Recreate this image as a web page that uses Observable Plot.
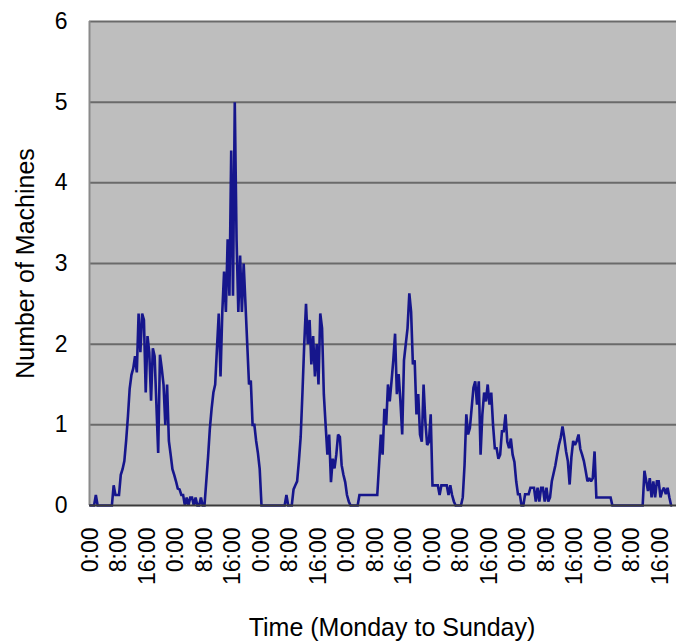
<!DOCTYPE html>
<html>
<head>
<meta charset="utf-8">
<script src="https://cdn.jsdelivr.net/npm/d3@7"></script>
<script src="https://cdn.jsdelivr.net/npm/@observablehq/plot@0.6"></script>
<style>
  html, body { margin: 0; padding: 0; background: #ffffff; }
  #chart { width: 676px; height: 641px; }
</style>
</head>
<body>
<div id="chart"></div>
<script>
// Number of machines, sampled every 30 minutes, one array per day (Monday .. Sunday)
const monday = [0,0,0,0.13,0,0,0,0,0,0,0,0,0,0.25,0.13,0.13,0.13,0.38,0.45,0.55,0.8,1.1,1.45,1.62,1.7,1.85,1.65,2.38,1.9,2.38,2.3,1.4,2.1,1.9,1.3,1.95,1.85,1.25,0.65,1.87,1.7,1.5,1.0,1.5,0.8,0.63,0.45,0.38];
const tuesday = [0.3,0.21,0.2,0.13,0.13,0,0.1,0,0.1,0.1,0,0.1,0,0,0.1,0,0,0.3,0.6,0.95,1.2,1.4,1.5,1.95,2.38,1.6,2.4,2.9,2.4,3.3,2.6,4.4,2.6,5.0,3.3,2.4,3.1,2.4,3.0,2.5,2.0,1.5,1.55,1.0,1.0,0.8,0.65,0.45];
const wednesday = [0,0,0,0,0,0,0,0,0,0,0,0,0,0,0.13,0,0,0,0.2,0.25,0.3,0.55,0.85,1.4,2.0,2.5,2.0,2.3,1.75,2.1,1.6,2.0,1.5,2.38,2.2,1.38,1.0,0.63,0.88,0.29,0.58,0.46,0.63,0.88,0.85,0.5,0.38,0.29];
const thursday = [0.13,0.05,0,0,0,0,0,0.13,0.13,0.13,0.13,0.13,0.13,0.13,0.13,0.13,0.13,0.13,0.5,0.88,0.63,1.2,1.0,1.5,1.29,1.54,1.8,2.13,1.38,1.63,1.29,0.88,1.8,2.0,2.2,2.63,2.4,1.75,1.8,1.13,1.38,0.88,0.79,1.5,1.04,0.75,0.79,1.13];
const friday = [0.25,0.25,0.25,0.25,0.13,0.25,0.25,0.25,0.25,0.13,0.25,0.13,0.05,0,0,0,0,0.1,0.5,1.13,0.88,0.96,1.21,1.46,1.54,1.25,1.54,0.63,1.13,1.4,1.29,1.5,1.25,1.4,1.0,0.71,0.71,0.58,0.63,0.92,0.92,1.13,0.79,0.71,0.83,0.63,0.54,0.3];
const saturday = [0.14,0.14,0,0,0.14,0.14,0.14,0.22,0.22,0.22,0.05,0.22,0.05,0.22,0.22,0.05,0.22,0.05,0.1,0.3,0.4,0.5,0.63,0.75,0.84,0.98,0.84,0.67,0.55,0.26,0.6,0.8,0.75,0.8,0.88,0.7,0.63,0.55,0.43,0.3,0.34,0.3,0.34,0.67,0.1,0.1,0.1,0.1];
const sunday = [0.1,0.1,0.1,0.1,0.1,0,0,0,0,0,0,0,0,0,0,0,0,0,0,0,0,0,0,0.43,0.3,0.18,0.34,0.1,0.3,0.1,0.3,0.3,0.1,0.18,0.22,0.14,0.22,0.1,0];

// x axis ticks (hours since Monday 0:00) and their labels
const tickHours = [0,8,16,24,32,40,48,56,64,72,80,88,96,104,112,120,128,136,144,152,160];
const tickLabels = ["0:00","8:00","16:00","0:00","8:00","16:00","0:00","8:00","16:00","0:00","8:00","16:00","0:00","8:00","16:00","0:00","8:00","16:00","0:00","8:00","16:00"];
const yTicks = [0,1,2,3,4,5,6];
const gridValues = [1,2,3,4,5,6];
const xTitle = "Time (Monday to Sunday)";
const yTitle = "Number of Machines";

const days = [monday, tuesday, wednesday, thursday, friday, saturday, sunday];
const series = days.flatMap((vals, d) => vals.map((v, i) => ({hour: d * 24 + i * 0.5, machines: v})));

const xDomain = [-0.28, 164.5];

const chart = Plot.plot({
  width: 676,
  height: 641,
  marginLeft: 89,
  marginRight: 0,
  marginTop: 21,
  marginBottom: 136,
  style: {fontFamily: "'Liberation Sans', Arial, sans-serif", fontSize: "23px", background: "#ffffff", color: "#000000"},
  x: {domain: xDomain, axis: null},
  y: {domain: [0, 6], axis: null},
  marks: [
    Plot.frame({fill: "#bebebe", stroke: null}),
    Plot.gridY(gridValues, {stroke: "#6a6a6a", strokeOpacity: 1, strokeWidth: 2}),
    Plot.ruleX([xDomain[0]], {stroke: "#8a8a8a", strokeWidth: 2}),
    Plot.line(series, {x: "hour", y: "machines", stroke: "#16168c", strokeWidth: 2.6, strokeLinejoin: "miter", strokeMiterlimit: 2}),
    Plot.ruleY([0], {stroke: "#3a3a3a", strokeWidth: 2}),
    Plot.axisY(yTicks, {tickSize: 0, tickPadding: 22, label: null, fontSize: 23, tickFormat: d => String(d)}),
    Plot.axisX(tickHours, {tickSize: 0, tickPadding: 22, tickRotate: -90, label: null, fontSize: 23,
      tickFormat: (d) => tickLabels[tickHours.indexOf(d)]}),
    Plot.text([xTitle], {frameAnchor: "bottom", dy: 130, dx: 9, lineAnchor: "bottom", fontSize: 25, fill: "#000000"}),
    Plot.text([yTitle], {frameAnchor: "left", dx: -64, rotate: -90, textAnchor: "middle", lineAnchor: "middle", fontSize: 25, fill: "#000000"})
  ]
});

document.getElementById("chart").appendChild(chart);
</script>
</body>
</html>
